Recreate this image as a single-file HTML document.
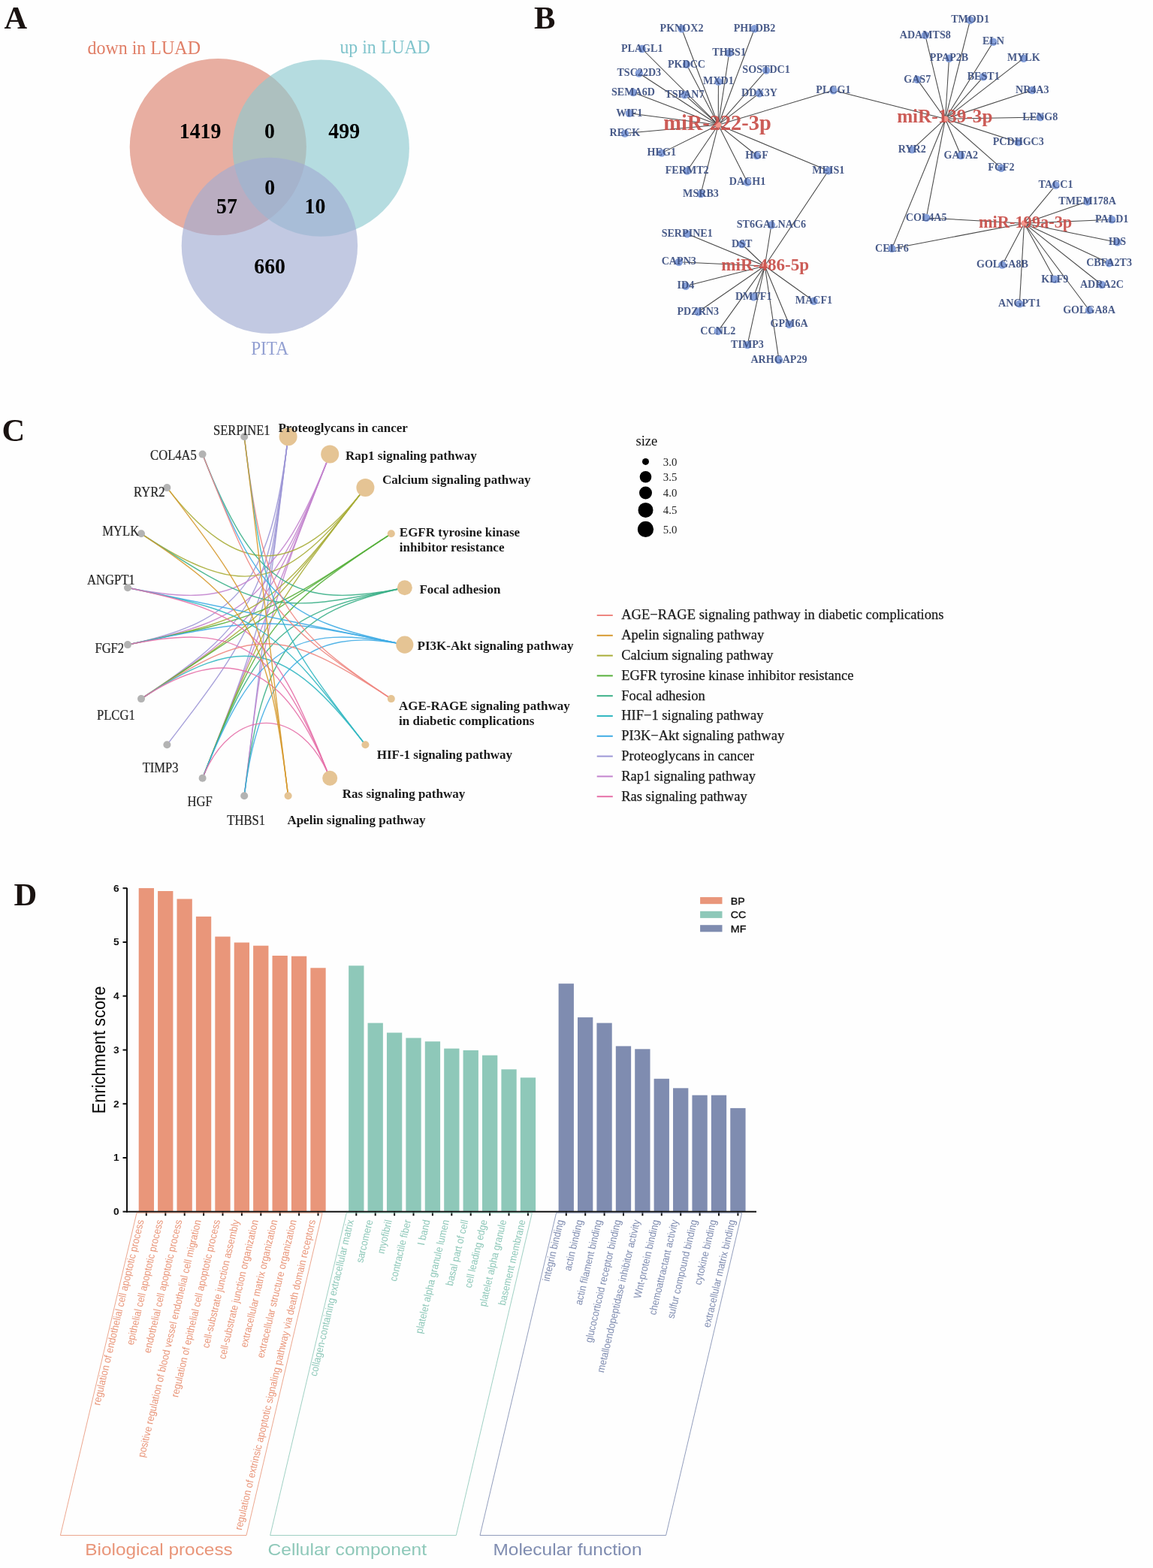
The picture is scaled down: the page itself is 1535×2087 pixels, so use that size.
<!DOCTYPE html>
<html><head><meta charset="utf-8"><title>Figure</title>
<style>html,body{margin:0;padding:0;background:#fefefe;}svg{display:block;}</style></head>
<body><svg width="1535" height="2087" viewBox="0 0 1535 2087">
<rect width="1535" height="2087" fill="#fefefe"/>
<text x="5.4" y="37.6" font-family="'Liberation Serif','Times New Roman',serif" font-weight="bold" font-size="42.5" fill="#1a1311">A</text>
<g>
<circle cx="290.3" cy="195.6" r="117.6" fill="rgb(210,93,67)" fill-opacity="0.5"/>
<circle cx="427.3" cy="197.2" r="117.6" fill="rgb(141,201,208)" fill-opacity="0.65"/>
<circle cx="358.9" cy="326.9" r="117.2" fill="rgb(162,172,211)" fill-opacity="0.65"/>
</g>
<text transform="translate(191.7,71.6) scale(1,1.08)" font-family="'Liberation Serif','Times New Roman',serif" font-size="24" fill="#e07e66" text-anchor="middle">down in LUAD</text>
<text transform="translate(512.6,71.4) scale(1,1.08)" font-family="'Liberation Serif','Times New Roman',serif" font-size="23.8" fill="#80c4cc" text-anchor="middle">up in LUAD</text>
<text transform="translate(359.1,471.7) scale(1,1.08)" font-family="'Liberation Serif','Times New Roman',serif" font-size="23.3" fill="#93a0d2" text-anchor="middle">PITA</text>
<text transform="translate(266.6,184.4) scale(1.03,1.1)" font-family="'Liberation Serif','Times New Roman',serif" font-weight="bold" font-size="27" fill="#000" text-anchor="middle">1419</text>
<text transform="translate(358.9,184.4) scale(1.03,1.1)" font-family="'Liberation Serif','Times New Roman',serif" font-weight="bold" font-size="27" fill="#000" text-anchor="middle">0</text>
<text transform="translate(458.2,184.4) scale(1.03,1.1)" font-family="'Liberation Serif','Times New Roman',serif" font-weight="bold" font-size="27" fill="#000" text-anchor="middle">499</text>
<text transform="translate(359.1,259.4) scale(1.03,1.1)" font-family="'Liberation Serif','Times New Roman',serif" font-weight="bold" font-size="27" fill="#000" text-anchor="middle">0</text>
<text transform="translate(302,283.9) scale(1.03,1.1)" font-family="'Liberation Serif','Times New Roman',serif" font-weight="bold" font-size="27" fill="#000" text-anchor="middle">57</text>
<text transform="translate(419.4,283.9) scale(1.03,1.1)" font-family="'Liberation Serif','Times New Roman',serif" font-weight="bold" font-size="27" fill="#000" text-anchor="middle">10</text>
<text transform="translate(359.1,363.5) scale(1.03,1.1)" font-family="'Liberation Serif','Times New Roman',serif" font-weight="bold" font-size="27" fill="#000" text-anchor="middle">660</text>
<text x="710.9" y="37.6" font-family="'Liberation Serif','Times New Roman',serif" font-weight="bold" font-size="42.5" fill="#1a1311">B</text>
<g stroke="#333" stroke-width="1.05" stroke-opacity="0.9" fill="none">
<line x1="956.3" y1="166.2" x2="907.5" y2="38.2"/>
<line x1="956.3" y1="166.2" x2="1004.5" y2="38.2"/>
<line x1="956.3" y1="166.2" x2="854.7" y2="65"/>
<line x1="956.3" y1="166.2" x2="970.7" y2="70.5"/>
<line x1="956.3" y1="166.2" x2="914" y2="85.8"/>
<line x1="956.3" y1="166.2" x2="1020.1" y2="93.6"/>
<line x1="956.3" y1="166.2" x2="850.8" y2="97.5"/>
<line x1="956.3" y1="166.2" x2="956.4" y2="108.6"/>
<line x1="956.3" y1="166.2" x2="843" y2="123"/>
<line x1="956.3" y1="166.2" x2="911.4" y2="126.2"/>
<line x1="956.3" y1="166.2" x2="1011" y2="124.2"/>
<line x1="956.3" y1="166.2" x2="837.8" y2="150.8"/>
<line x1="956.3" y1="166.2" x2="831.9" y2="177.6"/>
<line x1="956.3" y1="166.2" x2="880.8" y2="203.6"/>
<line x1="956.3" y1="166.2" x2="1007.5" y2="207"/>
<line x1="956.3" y1="166.2" x2="914.7" y2="227.5"/>
<line x1="956.3" y1="166.2" x2="995" y2="242.5"/>
<line x1="956.3" y1="166.2" x2="933" y2="258"/>
<line x1="956.3" y1="166.2" x2="1109.4" y2="120.3"/>
<line x1="956.3" y1="166.2" x2="1102.8" y2="227.3"/>
<line x1="1258.5" y1="158.2" x2="1291.6" y2="26.7"/>
<line x1="1258.5" y1="158.2" x2="1231.8" y2="46.9"/>
<line x1="1258.5" y1="158.2" x2="1322.4" y2="55.7"/>
<line x1="1258.5" y1="158.2" x2="1263.5" y2="77.7"/>
<line x1="1258.5" y1="158.2" x2="1362.8" y2="77.7"/>
<line x1="1258.5" y1="158.2" x2="1221.2" y2="105.9"/>
<line x1="1258.5" y1="158.2" x2="1309.2" y2="102.3"/>
<line x1="1258.5" y1="158.2" x2="1374.3" y2="120"/>
<line x1="1258.5" y1="158.2" x2="1384.8" y2="156"/>
<line x1="1258.5" y1="158.2" x2="1355.8" y2="189.4"/>
<line x1="1258.5" y1="158.2" x2="1214.2" y2="199.1"/>
<line x1="1258.5" y1="158.2" x2="1279.3" y2="207"/>
<line x1="1258.5" y1="158.2" x2="1332.9" y2="223.7"/>
<line x1="1258.5" y1="158.2" x2="1233.2" y2="289.9"/>
<line x1="1258.5" y1="158.2" x2="1187.4" y2="330.9"/>
<line x1="1258.5" y1="158.2" x2="1109.4" y2="120.3"/>
<line x1="1363.5" y1="297.2" x2="1405.5" y2="246.5"/>
<line x1="1363.5" y1="297.2" x2="1447.7" y2="268.2"/>
<line x1="1363.5" y1="297.2" x2="1480.2" y2="292.3"/>
<line x1="1363.5" y1="297.2" x2="1487.4" y2="322.4"/>
<line x1="1363.5" y1="297.2" x2="1476.6" y2="350.2"/>
<line x1="1363.5" y1="297.2" x2="1466.9" y2="379"/>
<line x1="1363.5" y1="297.2" x2="1450" y2="412.8"/>
<line x1="1363.5" y1="297.2" x2="1404.3" y2="371.8"/>
<line x1="1363.5" y1="297.2" x2="1357.3" y2="404.4"/>
<line x1="1363.5" y1="297.2" x2="1334.4" y2="352.6"/>
<line x1="1363.5" y1="297.2" x2="1233.2" y2="289.9"/>
<line x1="1363.5" y1="297.2" x2="1187.4" y2="330.9"/>
<line x1="1018.2" y1="354.0" x2="1026.9" y2="299.5"/>
<line x1="1018.2" y1="354.0" x2="914.7" y2="311.3"/>
<line x1="1018.2" y1="354.0" x2="987.7" y2="325"/>
<line x1="1018.2" y1="354.0" x2="903.8" y2="348.7"/>
<line x1="1018.2" y1="354.0" x2="912.9" y2="380.7"/>
<line x1="1018.2" y1="354.0" x2="1003.2" y2="395.3"/>
<line x1="1018.2" y1="354.0" x2="1083.5" y2="400.7"/>
<line x1="1018.2" y1="354.0" x2="929.3" y2="415.3"/>
<line x1="1018.2" y1="354.0" x2="1050.6" y2="431.7"/>
<line x1="1018.2" y1="354.0" x2="955.8" y2="440.9"/>
<line x1="1018.2" y1="354.0" x2="995" y2="459.1"/>
<line x1="1018.2" y1="354.0" x2="1037" y2="479.2"/>
<line x1="1018.2" y1="354.0" x2="1102.8" y2="227.3"/>
</g>
<g fill="#86a0da">
<circle cx="907.5" cy="38.2" r="5.2"/>
<circle cx="1004.5" cy="38.2" r="5.2"/>
<circle cx="854.7" cy="65" r="5.2"/>
<circle cx="970.7" cy="70.5" r="5.2"/>
<circle cx="914" cy="85.8" r="5.2"/>
<circle cx="1020.1" cy="93.6" r="5.2"/>
<circle cx="850.8" cy="97.5" r="5.2"/>
<circle cx="956.4" cy="108.6" r="5.2"/>
<circle cx="843" cy="123" r="5.2"/>
<circle cx="911.4" cy="126.2" r="5.2"/>
<circle cx="1011" cy="124.2" r="5.2"/>
<circle cx="837.8" cy="150.8" r="5.2"/>
<circle cx="831.9" cy="177.6" r="5.2"/>
<circle cx="880.8" cy="203.6" r="5.2"/>
<circle cx="1007.5" cy="207" r="5.2"/>
<circle cx="914.7" cy="227.5" r="5.2"/>
<circle cx="995" cy="242.5" r="5.2"/>
<circle cx="933" cy="258" r="5.2"/>
<circle cx="1109.4" cy="120.3" r="5.2"/>
<circle cx="1102.8" cy="227.3" r="5.2"/>
<circle cx="1291.6" cy="26.7" r="5.2"/>
<circle cx="1231.8" cy="46.9" r="5.2"/>
<circle cx="1322.4" cy="55.7" r="5.2"/>
<circle cx="1263.5" cy="77.7" r="5.2"/>
<circle cx="1362.8" cy="77.7" r="5.2"/>
<circle cx="1221.2" cy="105.9" r="5.2"/>
<circle cx="1309.2" cy="102.3" r="5.2"/>
<circle cx="1374.3" cy="120" r="5.2"/>
<circle cx="1384.8" cy="156" r="5.2"/>
<circle cx="1355.8" cy="189.4" r="5.2"/>
<circle cx="1214.2" cy="199.1" r="5.2"/>
<circle cx="1279.3" cy="207" r="5.2"/>
<circle cx="1332.9" cy="223.7" r="5.2"/>
<circle cx="1233.2" cy="289.9" r="5.2"/>
<circle cx="1187.4" cy="330.9" r="5.2"/>
<circle cx="1405.5" cy="246.5" r="5.2"/>
<circle cx="1447.7" cy="268.2" r="5.2"/>
<circle cx="1480.2" cy="292.3" r="5.2"/>
<circle cx="1487.4" cy="322.4" r="5.2"/>
<circle cx="1476.6" cy="350.2" r="5.2"/>
<circle cx="1466.9" cy="379" r="5.2"/>
<circle cx="1450" cy="412.8" r="5.2"/>
<circle cx="1404.3" cy="371.8" r="5.2"/>
<circle cx="1357.3" cy="404.4" r="5.2"/>
<circle cx="1334.4" cy="352.6" r="5.2"/>
<circle cx="1026.9" cy="299.5" r="5.2"/>
<circle cx="914.7" cy="311.3" r="5.2"/>
<circle cx="987.7" cy="325" r="5.2"/>
<circle cx="903.8" cy="348.7" r="5.2"/>
<circle cx="912.9" cy="380.7" r="5.2"/>
<circle cx="1003.2" cy="395.3" r="5.2"/>
<circle cx="1083.5" cy="400.7" r="5.2"/>
<circle cx="929.3" cy="415.3" r="5.2"/>
<circle cx="1050.6" cy="431.7" r="5.2"/>
<circle cx="955.8" cy="440.9" r="5.2"/>
<circle cx="995" cy="459.1" r="5.2"/>
<circle cx="1037" cy="479.2" r="5.2"/>
</g>
<g font-family="'Liberation Serif','Times New Roman',serif" font-weight="bold" font-size="14.1" fill="#3f5283" fill-opacity="0.95" text-anchor="middle">
<text x="907.5" y="41.9">PKNOX2</text>
<text x="1004.5" y="41.9">PHLDB2</text>
<text x="854.7" y="68.7">PLAGL1</text>
<text x="970.7" y="74.2">THBS1</text>
<text x="914" y="89.5">PKDCC</text>
<text x="1020.1" y="97.3">SOSTDC1</text>
<text x="850.8" y="101.2">TSC22D3</text>
<text x="956.4" y="112.3">MXD1</text>
<text x="843" y="126.7">SEMA6D</text>
<text x="911.4" y="129.9">TSPAN7</text>
<text x="1011" y="127.9">DDX3Y</text>
<text x="837.8" y="154.5">WIF1</text>
<text x="831.9" y="181.3">RECK</text>
<text x="880.8" y="207.3">HEG1</text>
<text x="1007.5" y="210.7">HGF</text>
<text x="914.7" y="231.2">FERMT2</text>
<text x="995" y="246.2">DACH1</text>
<text x="933" y="261.7">MSRB3</text>
<text x="1109.4" y="124.0">PLCG1</text>
<text x="1102.8" y="231.0">MEIS1</text>
<text x="1291.6" y="30.4">TMOD1</text>
<text x="1231.8" y="50.6">ADAMTS8</text>
<text x="1322.4" y="59.4">ELN</text>
<text x="1263.5" y="81.4">PPAP2B</text>
<text x="1362.8" y="81.4">MYLK</text>
<text x="1221.2" y="109.6">GAS7</text>
<text x="1309.2" y="106.0">BEST1</text>
<text x="1374.3" y="123.7">NR4A3</text>
<text x="1384.8" y="159.7">LENG8</text>
<text x="1355.8" y="193.1">PCDHGC3</text>
<text x="1214.2" y="202.8">RYR2</text>
<text x="1279.3" y="210.7">GATA2</text>
<text x="1332.9" y="227.4">FGF2</text>
<text x="1233.2" y="293.6">COL4A5</text>
<text x="1187.4" y="334.6">CELF6</text>
<text x="1405.5" y="250.2">TACC1</text>
<text x="1447.7" y="271.9">TMEM178A</text>
<text x="1480.2" y="296.0">PALD1</text>
<text x="1487.4" y="326.1">IDS</text>
<text x="1476.6" y="353.9">CBFA2T3</text>
<text x="1466.9" y="382.7">ADRA2C</text>
<text x="1450" y="416.5">GOLGA8A</text>
<text x="1404.3" y="375.5">KLF9</text>
<text x="1357.3" y="408.1">ANGPT1</text>
<text x="1334.4" y="356.3">GOLGA8B</text>
<text x="1026.9" y="303.2">ST6GALNAC6</text>
<text x="914.7" y="315.0">SERPINE1</text>
<text x="987.7" y="328.7">DST</text>
<text x="903.8" y="352.4">CAPN3</text>
<text x="912.9" y="384.4">ID4</text>
<text x="1003.2" y="399.0">DMTF1</text>
<text x="1083.5" y="404.4">MACF1</text>
<text x="929.3" y="419.0">PDZRN3</text>
<text x="1050.6" y="435.4">GPM6A</text>
<text x="955.8" y="444.6">CCNL2</text>
<text x="995" y="462.8">TIMP3</text>
<text x="1037" y="482.9">ARHGAP29</text>
</g>
<circle cx="956.3" cy="166.2" r="4" fill="#f3968c"/>
<circle cx="1258.5" cy="158.2" r="4" fill="#f3968c"/>
<circle cx="1363.5" cy="297.2" r="4" fill="#f3968c"/>
<circle cx="1018.2" cy="354.0" r="4" fill="#f3968c"/>
<text x="955.0" y="173.0" font-family="'Liberation Serif','Times New Roman',serif" font-weight="bold" font-size="28.4" fill="#c8504a" fill-opacity="0.93" text-anchor="middle">miR-222-3p</text>
<text x="1257.8" y="163.0" font-family="'Liberation Serif','Times New Roman',serif" font-weight="bold" font-size="25.2" fill="#c8504a" fill-opacity="0.93" text-anchor="middle">miR-139-3p</text>
<text x="1365.1" y="303.2" font-family="'Liberation Serif','Times New Roman',serif" font-weight="bold" font-size="22.4" fill="#c8504a" fill-opacity="0.93" text-anchor="middle">miR-199a-3p</text>
<text x="1018.7" y="359.7" font-family="'Liberation Serif','Times New Roman',serif" font-weight="bold" font-size="23.1" fill="#c8504a" fill-opacity="0.93" text-anchor="middle">miR-486-5p</text>
<text x="2.4" y="586.6" font-family="'Liberation Serif','Times New Roman',serif" font-weight="bold" font-size="42.5" fill="#1a1311">C</text>
<g fill="none" stroke-width="1.4" stroke-opacity="0.9">
<path d="M188.0,930.1 C336.3,832.2 357.6,794.1 383.6,581.2" stroke="#9d97d6"/>
<path d="M170.0,858.1 C319.2,827.4 360.0,774.6 383.6,581.2" stroke="#9d97d6"/>
<path d="M269.6,1035.8 C353.4,822.9 354.8,817.3 383.6,581.2" stroke="#9d97d6"/>
<path d="M325.2,1059.2 C354.4,820.2 354.4,820.2 383.6,581.2" stroke="#9d97d6"/>
<path d="M222.4,991.3 C347.9,828.6 355.8,808.5 383.6,581.2" stroke="#9d97d6"/>
<path d="M188.0,930.1 C346.3,825.6 358.5,809.6 439.2,604.6" stroke="#c384ce"/>
<path d="M170.0,858.1 C334.3,824.3 363.6,796.7 439.2,604.6" stroke="#c384ce"/>
<path d="M269.6,1035.8 C354.4,820.2 354.4,820.2 439.2,604.6" stroke="#c384ce"/>
<path d="M170.0,782.3 C319.2,813.0 370.6,779.0 439.2,604.6" stroke="#c384ce"/>
<path d="M325.2,1059.2 C354.0,823.1 355.4,817.5 439.2,604.6" stroke="#c384ce"/>
<path d="M222.4,649.1 C315.7,770.1 393.1,770.1 486.4,649.1" stroke="#a9ad38"/>
<path d="M188.0,710.3 C322.6,799.2 379.6,787.5 486.4,649.1" stroke="#a9ad38"/>
<path d="M188.0,930.1 C352.4,821.6 356.0,818.1 486.4,649.1" stroke="#a9ad38"/>
<path d="M170.0,858.1 C345.4,822.1 360.9,811.8 486.4,649.1" stroke="#a9ad38"/>
<path d="M269.6,1035.8 C353.4,822.9 356.0,818.1 486.4,649.1" stroke="#a9ad38"/>
<path d="M188.0,930.1 C354.4,820.2 354.4,820.2 520.8,710.3" stroke="#58b03c"/>
<path d="M170.0,858.1 C352.1,820.7 356.4,818.8 520.8,710.3" stroke="#58b03c"/>
<path d="M269.6,1035.8 C350.3,830.8 362.5,814.8 520.8,710.3" stroke="#58b03c"/>
<path d="M269.6,604.6 C338.2,779.0 389.6,813.0 538.8,782.3" stroke="#3cb088"/>
<path d="M188.0,710.3 C346.3,814.8 363.4,818.3 538.8,782.3" stroke="#3cb088"/>
<path d="M325.2,1059.2 C348.8,865.8 389.6,813.0 538.8,782.3" stroke="#3cb088"/>
<path d="M269.6,1035.8 C345.2,843.7 374.5,816.1 538.8,782.3" stroke="#3cb088"/>
<path d="M170.0,858.1 C352.1,820.7 356.7,820.7 538.8,858.1" stroke="#40ace4"/>
<path d="M269.6,1035.8 C338.2,861.4 389.6,827.4 538.8,858.1" stroke="#40ace4"/>
<path d="M170.0,782.3 C354.4,820.2 354.4,820.2 538.8,858.1" stroke="#40ace4"/>
<path d="M325.2,1059.2 C345.8,890.2 408.4,831.3 538.8,858.1" stroke="#40ace4"/>
<path d="M269.6,604.6 C345.2,796.7 374.5,824.3 538.8,858.1" stroke="#40ace4"/>
<path d="M188.0,930.1 C336.3,832.2 372.5,832.2 520.8,930.1" stroke="#ee8680"/>
<path d="M269.6,604.6 C350.3,809.6 362.5,825.6 520.8,930.1" stroke="#ee8680"/>
<path d="M325.2,581.2 C351.2,794.1 372.5,832.2 520.8,930.1" stroke="#ee8680"/>
<path d="M188.0,930.1 C322.6,841.2 379.6,852.9 486.4,991.3" stroke="#34b8c2"/>
<path d="M170.0,782.3 C345.4,818.3 360.9,828.6 486.4,991.3" stroke="#34b8c2"/>
<path d="M325.2,581.2 C353.0,808.5 360.9,828.6 486.4,991.3" stroke="#34b8c2"/>
<path d="M188.0,930.1 C305.7,852.4 379.2,883.4 439.2,1035.8" stroke="#e670a8"/>
<path d="M170.0,858.1 C319.2,827.4 370.6,861.4 439.2,1035.8" stroke="#e670a8"/>
<path d="M269.6,1035.8 C308.1,937.9 400.7,937.9 439.2,1035.8" stroke="#e670a8"/>
<path d="M170.0,782.3 C334.3,816.1 363.6,843.7 439.2,1035.8" stroke="#e670a8"/>
<path d="M325.2,581.2 C354.4,820.2 354.4,820.2 383.6,1059.2" stroke="#d69a30"/>
<path d="M222.4,649.1 C347.9,811.8 355.8,831.9 383.6,1059.2" stroke="#d69a30"/>
<path d="M188.0,710.3 C336.3,808.2 357.6,846.3 383.6,1059.2" stroke="#d69a30"/>
</g>
<circle cx="520.8" cy="930.1" r="5" fill="#E5C494"/>
<circle cx="383.6" cy="1059.2" r="5" fill="#E5C494"/>
<circle cx="486.4" cy="649.1" r="12" fill="#E5C494"/>
<circle cx="520.8" cy="710.3" r="5" fill="#E5C494"/>
<circle cx="538.8" cy="782.3" r="10" fill="#E5C494"/>
<circle cx="486.4" cy="991.3" r="5" fill="#E5C494"/>
<circle cx="538.8" cy="858.1" r="11.6" fill="#E5C494"/>
<circle cx="383.6" cy="581.2" r="12" fill="#E5C494"/>
<circle cx="439.2" cy="604.6" r="12" fill="#E5C494"/>
<circle cx="439.2" cy="1035.8" r="10" fill="#E5C494"/>
<circle cx="325.2" cy="1059.2" r="5" fill="#B3B3B3"/>
<circle cx="269.6" cy="1035.8" r="5" fill="#B3B3B3"/>
<circle cx="222.4" cy="991.3" r="5" fill="#B3B3B3"/>
<circle cx="188.0" cy="930.1" r="5" fill="#B3B3B3"/>
<circle cx="170.0" cy="858.1" r="5" fill="#B3B3B3"/>
<circle cx="170.0" cy="782.3" r="5" fill="#B3B3B3"/>
<circle cx="188.0" cy="710.3" r="5" fill="#B3B3B3"/>
<circle cx="222.4" cy="649.1" r="5" fill="#B3B3B3"/>
<circle cx="269.6" cy="604.6" r="5" fill="#B3B3B3"/>
<circle cx="325.2" cy="581.2" r="5" fill="#B3B3B3"/>
<g font-family="'Liberation Serif','Times New Roman',serif" font-size="16.6" fill="#262626" stroke="#262626" stroke-width="0.2">
<text transform="translate(284,578.6) scale(1,1.1)">SERPINE1</text>
<text transform="translate(200.1,611.7) scale(1,1.1)">COL4A5</text>
<text transform="translate(178,660.7) scale(1,1.1)">RYR2</text>
<text transform="translate(136.3,713.3) scale(1,1.1)">MYLK</text>
<text transform="translate(116,777.9) scale(1,1.1)">ANGPT1</text>
<text transform="translate(126.4,868.6) scale(1,1.1)">FGF2</text>
<text transform="translate(129,957.7) scale(1,1.1)">PLCG1</text>
<text transform="translate(189.7,1027.6) scale(1,1.1)">TIMP3</text>
<text transform="translate(249.6,1073.2) scale(1,1.1)">HGF</text>
<text transform="translate(302.3,1097.9) scale(1,1.1)">THBS1</text>
</g>
<g font-family="'Liberation Serif','Times New Roman',serif" font-weight="bold" font-size="17" fill="#1a1a1a">
<text x="370.4" y="575.2">Proteoglycans in cancer</text>
<text x="459.9" y="612.4">Rap1 signaling pathway</text>
<text x="509.1" y="644.4">Calcium signaling pathway</text>
<text x="531.8" y="713.6">EGFR tyrosine kinase</text>
<text x="531.8" y="734.3">inhibitor resistance</text>
<text x="558.4" y="790.2">Focal adhesion</text>
<text x="555.6" y="864.6">PI3K-Akt signaling pathway</text>
<text x="531" y="945.3">AGE-RAGE signaling pathway</text>
<text x="531" y="965.3">in diabetic complications</text>
<text x="501.7" y="1009.6">HIF-1 signaling pathway</text>
<text x="455.8" y="1061.6">Ras signaling pathway</text>
<text x="382.4" y="1097.2">Apelin signaling pathway</text>
</g>
<text x="846.4" y="592.6" font-family="'Liberation Serif','Times New Roman',serif" font-size="18.6" fill="#111">size</text>
<circle cx="859.5" cy="614.4" r="4.5" fill="#000"/>
<text x="882.8" y="619.6" font-family="'Liberation Serif','Times New Roman',serif" font-size="14.8" fill="#222">3.0</text>
<circle cx="859.5" cy="634.7" r="7.8" fill="#000"/>
<text x="882.8" y="639.7" font-family="'Liberation Serif','Times New Roman',serif" font-size="14.8" fill="#222">3.5</text>
<circle cx="859.5" cy="655.9" r="8.5" fill="#000"/>
<text x="882.8" y="660.9" font-family="'Liberation Serif','Times New Roman',serif" font-size="14.8" fill="#222">4.0</text>
<circle cx="859.5" cy="678.9" r="10" fill="#000"/>
<text x="882.8" y="684" font-family="'Liberation Serif','Times New Roman',serif" font-size="14.8" fill="#222">4.5</text>
<circle cx="859.5" cy="704.4" r="10.6" fill="#000"/>
<text x="882.8" y="709.8" font-family="'Liberation Serif','Times New Roman',serif" font-size="14.8" fill="#222">5.0</text>
<line x1="794.7" y1="819.0" x2="815.8" y2="819.0" stroke="#ee8680" stroke-width="2"/>
<text x="827.2" y="824.3" font-family="'Liberation Serif','Times New Roman',serif" font-size="18.5" fill="#1a1a1a" stroke="#1a1a1a" stroke-width="0.25">AGE−RAGE signaling pathway in diabetic complications</text>
<line x1="794.7" y1="845.8" x2="815.8" y2="845.8" stroke="#d69a30" stroke-width="2"/>
<text x="827.2" y="851.1" font-family="'Liberation Serif','Times New Roman',serif" font-size="18.5" fill="#1a1a1a" stroke="#1a1a1a" stroke-width="0.25">Apelin signaling pathway</text>
<line x1="794.7" y1="872.6" x2="815.8" y2="872.6" stroke="#a9ad38" stroke-width="2"/>
<text x="827.2" y="877.9" font-family="'Liberation Serif','Times New Roman',serif" font-size="18.5" fill="#1a1a1a" stroke="#1a1a1a" stroke-width="0.25">Calcium signaling pathway</text>
<line x1="794.7" y1="899.4" x2="815.8" y2="899.4" stroke="#58b03c" stroke-width="2"/>
<text x="827.2" y="904.7" font-family="'Liberation Serif','Times New Roman',serif" font-size="18.5" fill="#1a1a1a" stroke="#1a1a1a" stroke-width="0.25">EGFR tyrosine kinase inhibitor resistance</text>
<line x1="794.7" y1="926.2" x2="815.8" y2="926.2" stroke="#3cb088" stroke-width="2"/>
<text x="827.2" y="931.5" font-family="'Liberation Serif','Times New Roman',serif" font-size="18.5" fill="#1a1a1a" stroke="#1a1a1a" stroke-width="0.25">Focal adhesion</text>
<line x1="794.7" y1="953.0" x2="815.8" y2="953.0" stroke="#34b8c2" stroke-width="2"/>
<text x="827.2" y="958.3" font-family="'Liberation Serif','Times New Roman',serif" font-size="18.5" fill="#1a1a1a" stroke="#1a1a1a" stroke-width="0.25">HIF−1 signaling pathway</text>
<line x1="794.7" y1="979.8" x2="815.8" y2="979.8" stroke="#40ace4" stroke-width="2"/>
<text x="827.2" y="985.1" font-family="'Liberation Serif','Times New Roman',serif" font-size="18.5" fill="#1a1a1a" stroke="#1a1a1a" stroke-width="0.25">PI3K−Akt signaling pathway</text>
<line x1="794.7" y1="1006.6" x2="815.8" y2="1006.6" stroke="#9d97d6" stroke-width="2"/>
<text x="827.2" y="1011.9" font-family="'Liberation Serif','Times New Roman',serif" font-size="18.5" fill="#1a1a1a" stroke="#1a1a1a" stroke-width="0.25">Proteoglycans in cancer</text>
<line x1="794.7" y1="1033.4" x2="815.8" y2="1033.4" stroke="#c384ce" stroke-width="2"/>
<text x="827.2" y="1038.7" font-family="'Liberation Serif','Times New Roman',serif" font-size="18.5" fill="#1a1a1a" stroke="#1a1a1a" stroke-width="0.25">Rap1 signaling pathway</text>
<line x1="794.7" y1="1060.2" x2="815.8" y2="1060.2" stroke="#e670a8" stroke-width="2"/>
<text x="827.2" y="1065.5" font-family="'Liberation Serif','Times New Roman',serif" font-size="18.5" fill="#1a1a1a" stroke="#1a1a1a" stroke-width="0.25">Ras signaling pathway</text>
<text x="18.4" y="1205.3" font-family="'Liberation Serif','Times New Roman',serif" font-weight="bold" font-size="42.5" fill="#1a1311">D</text>
<rect x="184.70" y="1182.1" width="20.3" height="430.6" fill="#e9967a"/>
<rect x="210.10" y="1186" width="20.3" height="426.7" fill="#e9967a"/>
<rect x="235.51" y="1196.5" width="20.3" height="416.2" fill="#e9967a"/>
<rect x="260.91" y="1219.9" width="20.3" height="392.8" fill="#e9967a"/>
<rect x="286.32" y="1246.6" width="20.3" height="366.1" fill="#e9967a"/>
<rect x="311.73" y="1254.5" width="20.3" height="358.2" fill="#e9967a"/>
<rect x="337.13" y="1258.7" width="20.3" height="354.0" fill="#e9967a"/>
<rect x="362.53" y="1272" width="20.3" height="340.7" fill="#e9967a"/>
<rect x="387.94" y="1272.7" width="20.3" height="340.0" fill="#e9967a"/>
<rect x="413.35" y="1288.3" width="20.3" height="324.4" fill="#e9967a"/>
<rect x="464.16" y="1285.3" width="20.3" height="327.4" fill="#8ec8b9"/>
<rect x="489.56" y="1361.6" width="20.3" height="251.1" fill="#8ec8b9"/>
<rect x="514.96" y="1374.5" width="20.3" height="238.2" fill="#8ec8b9"/>
<rect x="540.37" y="1381.5" width="20.3" height="231.2" fill="#8ec8b9"/>
<rect x="565.78" y="1386.2" width="20.3" height="226.5" fill="#8ec8b9"/>
<rect x="591.18" y="1395.6" width="20.3" height="217.1" fill="#8ec8b9"/>
<rect x="616.59" y="1397.9" width="20.3" height="214.8" fill="#8ec8b9"/>
<rect x="641.99" y="1404.6" width="20.3" height="208.1" fill="#8ec8b9"/>
<rect x="667.39" y="1423.3" width="20.3" height="189.4" fill="#8ec8b9"/>
<rect x="692.80" y="1434.3" width="20.3" height="178.4" fill="#8ec8b9"/>
<rect x="743.61" y="1309.2" width="20.3" height="303.5" fill="#7f8cb0"/>
<rect x="769.02" y="1354.1" width="20.3" height="258.6" fill="#7f8cb0"/>
<rect x="794.42" y="1361.6" width="20.3" height="251.1" fill="#7f8cb0"/>
<rect x="819.83" y="1392.4" width="20.3" height="220.3" fill="#7f8cb0"/>
<rect x="845.23" y="1396.3" width="20.3" height="216.4" fill="#7f8cb0"/>
<rect x="870.63" y="1435.8" width="20.3" height="176.9" fill="#7f8cb0"/>
<rect x="896.04" y="1448.3" width="20.3" height="164.4" fill="#7f8cb0"/>
<rect x="921.44" y="1457.7" width="20.3" height="155.0" fill="#7f8cb0"/>
<rect x="946.85" y="1457.7" width="20.3" height="155.0" fill="#7f8cb0"/>
<rect x="972.26" y="1474.9" width="20.3" height="137.8" fill="#7f8cb0"/>
<g stroke="#111" stroke-width="2">
<line x1="169" y1="1181.8" x2="169" y2="1613.7"/>
<line x1="168" y1="1612.7" x2="1007" y2="1612.7"/>
<line x1="163.5" y1="1612.7" x2="169" y2="1612.7"/>
<line x1="163.5" y1="1541.0" x2="169" y2="1541.0"/>
<line x1="163.5" y1="1469.2" x2="169" y2="1469.2"/>
<line x1="163.5" y1="1397.5" x2="169" y2="1397.5"/>
<line x1="163.5" y1="1325.7" x2="169" y2="1325.7"/>
<line x1="163.5" y1="1254.0" x2="169" y2="1254.0"/>
<line x1="163.5" y1="1182.2" x2="169" y2="1182.2"/>
<line x1="194.8" y1="1612.7" x2="194.8" y2="1618.2"/>
<line x1="220.3" y1="1612.7" x2="220.3" y2="1618.2"/>
<line x1="245.7" y1="1612.7" x2="245.7" y2="1618.2"/>
<line x1="271.1" y1="1612.7" x2="271.1" y2="1618.2"/>
<line x1="296.5" y1="1612.7" x2="296.5" y2="1618.2"/>
<line x1="321.9" y1="1612.7" x2="321.9" y2="1618.2"/>
<line x1="347.3" y1="1612.7" x2="347.3" y2="1618.2"/>
<line x1="372.7" y1="1612.7" x2="372.7" y2="1618.2"/>
<line x1="398.1" y1="1612.7" x2="398.1" y2="1618.2"/>
<line x1="423.5" y1="1612.7" x2="423.5" y2="1618.2"/>
<line x1="474.3" y1="1612.7" x2="474.3" y2="1618.2"/>
<line x1="499.7" y1="1612.7" x2="499.7" y2="1618.2"/>
<line x1="525.1" y1="1612.7" x2="525.1" y2="1618.2"/>
<line x1="550.5" y1="1612.7" x2="550.5" y2="1618.2"/>
<line x1="575.9" y1="1612.7" x2="575.9" y2="1618.2"/>
<line x1="601.3" y1="1612.7" x2="601.3" y2="1618.2"/>
<line x1="626.7" y1="1612.7" x2="626.7" y2="1618.2"/>
<line x1="652.1" y1="1612.7" x2="652.1" y2="1618.2"/>
<line x1="677.5" y1="1612.7" x2="677.5" y2="1618.2"/>
<line x1="702.9" y1="1612.7" x2="702.9" y2="1618.2"/>
<line x1="753.8" y1="1612.7" x2="753.8" y2="1618.2"/>
<line x1="779.2" y1="1612.7" x2="779.2" y2="1618.2"/>
<line x1="804.6" y1="1612.7" x2="804.6" y2="1618.2"/>
<line x1="830.0" y1="1612.7" x2="830.0" y2="1618.2"/>
<line x1="855.4" y1="1612.7" x2="855.4" y2="1618.2"/>
<line x1="880.8" y1="1612.7" x2="880.8" y2="1618.2"/>
<line x1="906.2" y1="1612.7" x2="906.2" y2="1618.2"/>
<line x1="931.6" y1="1612.7" x2="931.6" y2="1618.2"/>
<line x1="957.0" y1="1612.7" x2="957.0" y2="1618.2"/>
<line x1="982.4" y1="1612.7" x2="982.4" y2="1618.2"/>
</g>
<g font-family="'Liberation Sans',Arial,Helvetica,sans-serif" font-size="12.5" font-weight="bold" fill="#111" text-anchor="middle">
<text transform="translate(154.8,1617.1) scale(1.1,1)">0</text>
<text transform="translate(154.8,1545.4) scale(1.1,1)">1</text>
<text transform="translate(154.8,1473.6) scale(1.1,1)">2</text>
<text transform="translate(154.8,1401.9) scale(1.1,1)">3</text>
<text transform="translate(154.8,1330.1) scale(1.1,1)">4</text>
<text transform="translate(154.8,1258.4) scale(1.1,1)">5</text>
<text transform="translate(154.8,1186.6) scale(1.1,1)">6</text>
</g>
<text transform="translate(140.4,1397.4) scale(1.13,1) rotate(-90)" font-family="'Liberation Sans',Arial,Helvetica,sans-serif" font-size="21.8" fill="#000" text-anchor="middle">Enrichment score</text>
<text transform="translate(191.7,1624.6) scale(1.13,1) rotate(-78.07)" font-family="'Liberation Sans',Arial,Helvetica,sans-serif" font-size="12.28" fill="#e9967a" text-anchor="end">regulation of endothelial cell apoptotic process</text>
<text transform="translate(217.1,1624.6) scale(1.13,1) rotate(-78.07)" font-family="'Liberation Sans',Arial,Helvetica,sans-serif" font-size="12.28" fill="#e9967a" text-anchor="end">epithelial cell apoptotic process</text>
<text transform="translate(242.5,1624.6) scale(1.13,1) rotate(-78.07)" font-family="'Liberation Sans',Arial,Helvetica,sans-serif" font-size="12.28" fill="#e9967a" text-anchor="end">endothelial cell apoptotic process</text>
<text transform="translate(267.9,1624.6) scale(1.13,1) rotate(-78.07)" font-family="'Liberation Sans',Arial,Helvetica,sans-serif" font-size="12.28" fill="#e9967a" text-anchor="end">positive regulation of blood vessel endothelial cell migration</text>
<text transform="translate(293.3,1624.6) scale(1.13,1) rotate(-78.07)" font-family="'Liberation Sans',Arial,Helvetica,sans-serif" font-size="12.28" fill="#e9967a" text-anchor="end">regulation of epithelial cell apoptotic process</text>
<text transform="translate(318.7,1624.6) scale(1.13,1) rotate(-78.07)" font-family="'Liberation Sans',Arial,Helvetica,sans-serif" font-size="12.28" fill="#e9967a" text-anchor="end">cell-substrate junction assembly</text>
<text transform="translate(344.1,1624.6) scale(1.13,1) rotate(-78.07)" font-family="'Liberation Sans',Arial,Helvetica,sans-serif" font-size="12.28" fill="#e9967a" text-anchor="end">cell-substrate junction organization</text>
<text transform="translate(369.5,1624.6) scale(1.13,1) rotate(-78.07)" font-family="'Liberation Sans',Arial,Helvetica,sans-serif" font-size="12.28" fill="#e9967a" text-anchor="end">extracellular matrix organization</text>
<text transform="translate(394.9,1624.6) scale(1.13,1) rotate(-78.07)" font-family="'Liberation Sans',Arial,Helvetica,sans-serif" font-size="12.28" fill="#e9967a" text-anchor="end">extracellular structure organization</text>
<text transform="translate(420.3,1624.6) scale(1.13,1) rotate(-78.07)" font-family="'Liberation Sans',Arial,Helvetica,sans-serif" font-size="12.28" fill="#e9967a" text-anchor="end">regulation of extrinsic apoptotic signaling pathway via death domain receptors</text>
<text transform="translate(471.1,1624.6) scale(1.13,1) rotate(-78.07)" font-family="'Liberation Sans',Arial,Helvetica,sans-serif" font-size="12.28" fill="#8ec8b9" text-anchor="end">collagen-containing extracellular matrix</text>
<text transform="translate(496.5,1624.6) scale(1.13,1) rotate(-78.07)" font-family="'Liberation Sans',Arial,Helvetica,sans-serif" font-size="12.28" fill="#8ec8b9" text-anchor="end">sarcomere</text>
<text transform="translate(521.9,1624.6) scale(1.13,1) rotate(-78.07)" font-family="'Liberation Sans',Arial,Helvetica,sans-serif" font-size="12.28" fill="#8ec8b9" text-anchor="end">myofibril</text>
<text transform="translate(547.3,1624.6) scale(1.13,1) rotate(-78.07)" font-family="'Liberation Sans',Arial,Helvetica,sans-serif" font-size="12.28" fill="#8ec8b9" text-anchor="end">contractile fiber</text>
<text transform="translate(572.7,1624.6) scale(1.13,1) rotate(-78.07)" font-family="'Liberation Sans',Arial,Helvetica,sans-serif" font-size="12.28" fill="#8ec8b9" text-anchor="end">I band</text>
<text transform="translate(598.1,1624.6) scale(1.13,1) rotate(-78.07)" font-family="'Liberation Sans',Arial,Helvetica,sans-serif" font-size="12.28" fill="#8ec8b9" text-anchor="end">platelet alpha granule lumen</text>
<text transform="translate(623.5,1624.6) scale(1.13,1) rotate(-78.07)" font-family="'Liberation Sans',Arial,Helvetica,sans-serif" font-size="12.28" fill="#8ec8b9" text-anchor="end">basal part of cell</text>
<text transform="translate(648.9,1624.6) scale(1.13,1) rotate(-78.07)" font-family="'Liberation Sans',Arial,Helvetica,sans-serif" font-size="12.28" fill="#8ec8b9" text-anchor="end">cell leading edge</text>
<text transform="translate(674.3,1624.6) scale(1.13,1) rotate(-78.07)" font-family="'Liberation Sans',Arial,Helvetica,sans-serif" font-size="12.28" fill="#8ec8b9" text-anchor="end">platelet alpha granule</text>
<text transform="translate(699.7,1624.6) scale(1.13,1) rotate(-78.07)" font-family="'Liberation Sans',Arial,Helvetica,sans-serif" font-size="12.28" fill="#8ec8b9" text-anchor="end">basement membrane</text>
<text transform="translate(750.6,1624.6) scale(1.13,1) rotate(-78.07)" font-family="'Liberation Sans',Arial,Helvetica,sans-serif" font-size="12.28" fill="#7f8cb0" text-anchor="end">integrin binding</text>
<text transform="translate(776.0,1624.6) scale(1.13,1) rotate(-78.07)" font-family="'Liberation Sans',Arial,Helvetica,sans-serif" font-size="12.28" fill="#7f8cb0" text-anchor="end">actin binding</text>
<text transform="translate(801.4,1624.6) scale(1.13,1) rotate(-78.07)" font-family="'Liberation Sans',Arial,Helvetica,sans-serif" font-size="12.28" fill="#7f8cb0" text-anchor="end">actin filament binding</text>
<text transform="translate(826.8,1624.6) scale(1.13,1) rotate(-78.07)" font-family="'Liberation Sans',Arial,Helvetica,sans-serif" font-size="12.28" fill="#7f8cb0" text-anchor="end">glucocorticoid receptor binding</text>
<text transform="translate(852.2,1624.6) scale(1.13,1) rotate(-78.07)" font-family="'Liberation Sans',Arial,Helvetica,sans-serif" font-size="12.28" fill="#7f8cb0" text-anchor="end">metalloendopeptidase inhibitor activity</text>
<text transform="translate(877.6,1624.6) scale(1.13,1) rotate(-78.07)" font-family="'Liberation Sans',Arial,Helvetica,sans-serif" font-size="12.28" fill="#7f8cb0" text-anchor="end">Wnt-protein binding</text>
<text transform="translate(903.0,1624.6) scale(1.13,1) rotate(-78.07)" font-family="'Liberation Sans',Arial,Helvetica,sans-serif" font-size="12.28" fill="#7f8cb0" text-anchor="end">chemoattractant activity</text>
<text transform="translate(928.4,1624.6) scale(1.13,1) rotate(-78.07)" font-family="'Liberation Sans',Arial,Helvetica,sans-serif" font-size="12.28" fill="#7f8cb0" text-anchor="end">sulfur compound binding</text>
<text transform="translate(953.8,1624.6) scale(1.13,1) rotate(-78.07)" font-family="'Liberation Sans',Arial,Helvetica,sans-serif" font-size="12.28" fill="#7f8cb0" text-anchor="end">cytokine binding</text>
<text transform="translate(979.2,1624.6) scale(1.13,1) rotate(-78.07)" font-family="'Liberation Sans',Arial,Helvetica,sans-serif" font-size="12.28" fill="#7f8cb0" text-anchor="end">extracellular matrix binding</text>
<polygon points="182.0,1614.3 429.1,1614.3 328.0,2043.5 80.4,2043.5" fill="none" stroke="#e9967a" stroke-width="1" stroke-opacity="0.85"/>
<polygon points="461.3,1614.3 708.4,1614.3 607.3,2043.5 359.7,2043.5" fill="none" stroke="#8ec8b9" stroke-width="1" stroke-opacity="0.85"/>
<polygon points="740.6,1614.3 987.7,1614.3 886.6,2043.5 639.0,2043.5" fill="none" stroke="#7f8cb0" stroke-width="1" stroke-opacity="0.85"/>
<text transform="translate(113.2,2069.7) scale(1.13,1)" font-family="'Liberation Sans',Arial,Helvetica,sans-serif" font-size="21.5" fill="#e9967a" textLength="174.0" lengthAdjust="spacingAndGlyphs">Biological process</text>
<text transform="translate(356.6,2069.7) scale(1.13,1)" font-family="'Liberation Sans',Arial,Helvetica,sans-serif" font-size="21.5" fill="#8ec8b9" textLength="187.1" lengthAdjust="spacingAndGlyphs">Cellular component</text>
<text transform="translate(656.5,2069.7) scale(1.13,1)" font-family="'Liberation Sans',Arial,Helvetica,sans-serif" font-size="21.5" fill="#7f8cb0" textLength="175.2" lengthAdjust="spacingAndGlyphs">Molecular function</text>
<rect x="932.1" y="1194.1" width="29.4" height="9.1" fill="#e9967a"/>
<text transform="translate(972.8,1203.5) scale(1.13,1)" font-family="'Liberation Sans',Arial,Helvetica,sans-serif" font-size="12.6" fill="#111" stroke="#111" stroke-width="0.35">BP</text>
<rect x="932.1" y="1212.8" width="29.4" height="9.1" fill="#8ec8b9"/>
<text transform="translate(972.8,1222.2) scale(1.13,1)" font-family="'Liberation Sans',Arial,Helvetica,sans-serif" font-size="12.6" fill="#111" stroke="#111" stroke-width="0.35">CC</text>
<rect x="932.1" y="1231.2" width="29.4" height="9.1" fill="#7f8cb0"/>
<text transform="translate(972.8,1240.6) scale(1.13,1)" font-family="'Liberation Sans',Arial,Helvetica,sans-serif" font-size="12.6" fill="#111" stroke="#111" stroke-width="0.35">MF</text>
</svg></body></html>
